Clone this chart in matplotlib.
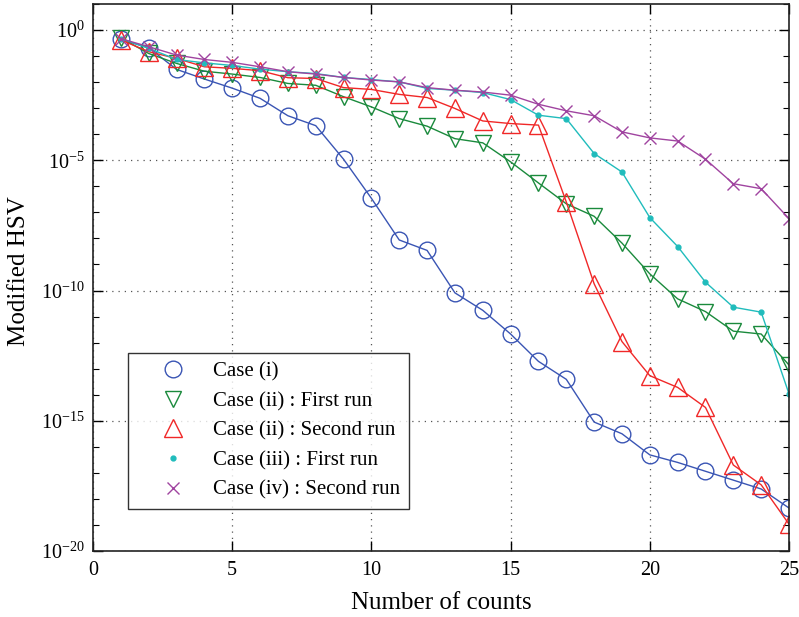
import numpy as np
import matplotlib
matplotlib.use("Agg")
import matplotlib.pyplot as plt
from matplotlib.lines import Line2D
from matplotlib.ticker import LogLocator, NullFormatter, FixedLocator

plt.rcParams['font.family'] = ['Liberation Serif', 'DejaVu Serif']
plt.rcParams['mathtext.fontset'] = 'stix'

counts = np.arange(1, 26)

# log10 of the modified HSV values
case_i = [-0.36, -0.68, -1.51, -1.88, -2.23, -2.62, -3.29, -3.67, -4.96, -6.46,
          -8.06, -8.46, -10.09, -10.76, -11.67, -12.72, -13.41, -15.05, -15.5, -16.31,
          -16.6, -16.94, -17.28, -17.62, -18.35]
case_ii_first = [-0.3, -0.9, -1.28, -1.58, -1.69, -1.82, -2.05, -2.12, -2.56, -2.95,
                 -3.4, -3.69, -4.17, -4.33, -5.06, -5.87, -6.67, -7.15, -8.18, -9.36,
                 -10.32, -10.81, -11.56, -11.67, -12.86]
case_ii_second = [-0.38, -0.83, -1.09, -1.41, -1.47, -1.56, -1.83, -1.86, -2.21, -2.28,
                  -2.47, -2.59, -3.01, -3.49, -3.59, -3.65, -6.6, -9.74, -11.96, -13.27,
                  -13.72, -14.49, -16.7, -17.46, -18.97]
case_iii_first = [-0.33, -0.7, -1.13, -1.26, -1.36, -1.5, -1.6, -1.67, -1.82, -1.9,
                  -1.99, -2.24, -2.31, -2.4, -2.67, -3.27, -3.4, -4.74, -5.45, -7.2,
                  -8.31, -9.68, -10.64, -10.83, -13.97]
case_iv_second = [-0.33, -0.64, -0.96, -1.13, -1.24, -1.41, -1.6, -1.69, -1.82, -1.92,
                  -1.99, -2.21, -2.31, -2.38, -2.5, -2.85, -3.1, -3.29, -3.91, -4.14,
                  -4.26, -4.96, -5.9, -6.09, -7.24]

labels = ["Case (i)", "Case (ii) : First run", "Case (ii) : Second run",
          "Case (iii) : First run", "Case (iv) : Second run"]

series = [case_i, case_ii_first, case_ii_second, case_iii_first, case_iv_second]
colors = ['#3a55b4', '#1a8a3c', '#f02828', '#20bcbc', '#a044a0']
markers = ['o', 'v', '^', 'o', 'x']
msizes = [12, 12, 13, 3.5, 8]
mfill = ['none', 'none', 'none', 'full', 'full']

fig = plt.figure(figsize=(7.99, 6.17), dpi=100)
ax = fig.add_axes([0.1164, 0.107, 0.8711, 0.8865])

handles = []
for vals, c, m, ms, mf, lab in zip(series, colors, markers, msizes, mfill, labels):
    y = 10.0 ** np.array(vals)
    kw = dict(color=c, marker=m, markersize=ms, linewidth=1.0, markeredgewidth=1.0)
    if mf == 'none':
        kw['markerfacecolor'] = 'none'
    ax.plot(counts, y, **kw)
    hk = dict(color=c, marker=m, markersize=ms, linestyle='none', markeredgewidth=1.0)
    if mf == 'none':
        hk['markerfacecolor'] = 'none'
    handles.append(Line2D([], [], **hk))

ax.set_yscale('log')
ax.set_xlim(0, 25)
ax.set_ylim(1e-20, 1e1)
ax.set_xticks([0, 5, 10, 15, 20, 25])
ax.yaxis.set_major_locator(FixedLocator([1e-20, 1e-15, 1e-10, 1e-5, 1e0]))
ax.yaxis.set_minor_locator(LogLocator(base=10, subs=(1.0,), numticks=40))
ax.yaxis.set_minor_formatter(NullFormatter())

ax.grid(True, which='major', linestyle=(0, (1, 4)), color='#555555', linewidth=0.9)
ax.tick_params(which='both', direction='in', top=True, right=True, labelsize=14.5)
ax.tick_params(which='major', length=7, width=1.0)
ax.tick_params(which='minor', length=4, width=0.8)
ax.tick_params(axis='x', pad=7)
ax.tick_params(axis='y', pad=6)
for s in ax.spines.values():
    s.set_linewidth(1.2)
    s.set_color('#222222')

ax.set_xlabel("Number of counts", fontsize=18, labelpad=9)
ax.set_ylabel("Modified HSV", fontsize=18)
ax.yaxis.set_label_coords(-0.0905, 0.512)

leg = ax.legend(handles, labels, loc='lower left', bbox_to_anchor=(0.05, 0.077),
                fontsize=15, frameon=True, fancybox=False, edgecolor='black',
                borderaxespad=0, labelspacing=0.48, handlelength=3.45,
                handletextpad=0.2, borderpad=0.43)
leg.get_frame().set_linewidth(1.0)

fig.savefig("out.png", dpi=100)
